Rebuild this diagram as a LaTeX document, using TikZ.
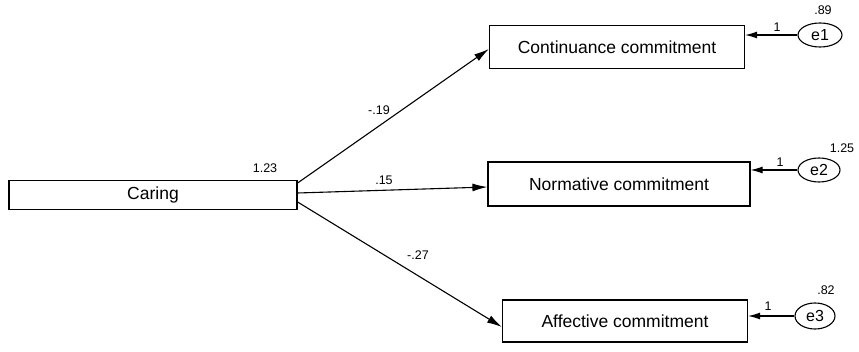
\documentclass[tikz,border=0pt]{standalone}
\usepackage{fontspec}
\setmainfont{Liberation Sans}
\usetikzlibrary{arrows.meta,shapes.geometric}
\begin{document}
\begin{tikzpicture}[x=1pt,y=-1pt,
  varbox/.style={draw, line width=1.2pt, rectangle, inner sep=0pt, font=\fontsize{17.5}{20}\selectfont},
  errvar/.style={draw, line width=1.1pt, ellipse, inner sep=0pt, font=\fontsize{16}{18}\selectfont},
  path/.style={line width=1.1pt, -{Latex[length=15pt,width=8pt]}},
  errpath/.style={line width=1.1pt, -{Latex[length=12pt,width=7pt]}},
  coef/.style={font=\fontsize{12.5}{14}\selectfont, inner sep=0pt}]
\useasboundingbox (0,0) rectangle (859,352);

% observed variables
\node[varbox, minimum width=288pt, minimum height=29pt] (caring) at (153,195) {Caring};
\node[varbox, minimum width=255pt, minimum height=43pt] (cont) at (617,47) {Continuance commitment};
\node[varbox, minimum width=262pt, minimum height=44pt] (norm) at (619,184) {Normative commitment};
\node[varbox, minimum width=245pt, minimum height=42pt] (aff) at (625,321) {Affective commitment};

% error terms
\node[errvar, minimum width=44pt, minimum height=24pt] (e1) at (820,35) {e1};
\node[errvar, minimum width=42pt, minimum height=24pt] (e2) at (819,170) {e2};
\node[errvar, minimum width=40pt, minimum height=26pt] (e3) at (815,316) {e3};

% regression paths
\draw[path] ([yshift=12pt]caring.east) -- ([yshift=-2pt]cont.west);
\draw[path] ([yshift=2pt]caring.east) -- ([yshift=-3pt]norm.west);
\draw[path] ([yshift=-7pt]caring.east) -- ([yshift=-6pt]aff.west);
\node[coef] (b1) at (379,110) {-.19};
\node[coef] (b2) at (384,180) {.15};
\node[coef] (b3) at (418,255) {-.27};

% error paths
\draw[errpath] (e1.west) -- (e1.west -| cont.east);
\draw[errpath] (e2.west) -- (e2.west -| norm.east);
\draw[errpath] (e3.west) -- (e3.west -| aff.east);
\node[coef] (w1) at (777,27) {1};
\node[coef] (w2) at (780,162) {1};
\node[coef] (w3) at (768,306) {1};

% variances
\node[coef] (v0) at (265,168) {1.23};
\node[coef] (v1) at (823,10) {.89};
\node[coef] (v2) at (842,148) {1.25};
\node[coef] (v3) at (826,290) {.82};
\end{tikzpicture}
\end{document}
